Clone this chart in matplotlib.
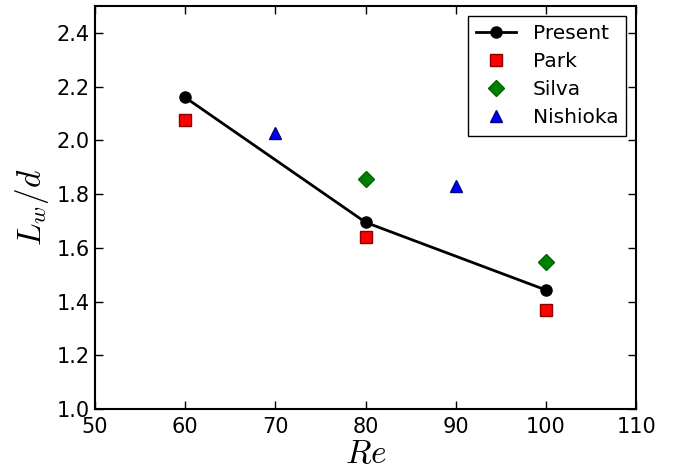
import matplotlib
matplotlib.use("Agg")
import matplotlib.pyplot as plt

# Data
re_present = [60, 80, 100]
lw_present = [2.16, 1.695, 1.443]

re_park = [60, 80, 100]
lw_park = [2.075, 1.64, 1.369]

re_silva = [80, 100]
lw_silva = [1.857, 1.548]

re_nishioka = [70, 90]
lw_nishioka = [2.028, 1.832]

x_ticks = [50, 60, 70, 80, 90, 100, 110]
y_ticks = [1.0, 1.2, 1.4, 1.6, 1.8, 2.0, 2.2, 2.4]

plt.rcParams["mathtext.fontset"] = "cm"

fig = plt.figure(figsize=(6.74, 4.74), dpi=100)
ax = fig.add_axes([0.141, 0.137, 0.803, 0.850])

ax.plot(re_present, lw_present, "-o", color="black", lw=2, ms=8, label="Present", zorder=3)
ax.plot(re_park, lw_park, "s", color="red", mec="darkred", ms=8, label="Park")
ax.plot(re_silva, lw_silva, "D", color="green", mec="darkgreen", ms=8, label="Silva")
ax.plot(re_nishioka, lw_nishioka, "^", color="blue", mec="navy", ms=8, label="Nishioka")

ax.set_xlim(50, 110)
ax.set_ylim(1.0, 2.5)
ax.set_xticks(x_ticks)
ax.set_yticks(y_ticks)
ax.set_yticklabels([f"{v:.1f}" for v in y_ticks])
ax.tick_params(direction="in", top=True, right=True, labelsize=15, length=6, width=1)
ax.tick_params(axis="x", pad=6)
ax.tick_params(axis="y", pad=4)
for s in ax.spines.values():
    s.set_linewidth(1.5)

ax.set_xlabel(r"$Re$", fontsize=24, labelpad=0)
ax.set_ylabel(r"$L_w/d$", fontsize=24, labelpad=4)

leg = ax.legend(loc="upper right", fontsize=14.5, numpoints=1, fancybox=False,
                edgecolor="black", framealpha=1, borderaxespad=0.5, handlelength=2.0,
                labelspacing=0.45, borderpad=0.4)
leg.get_frame().set_linewidth(1)

fig.savefig("out.png", dpi=100)
